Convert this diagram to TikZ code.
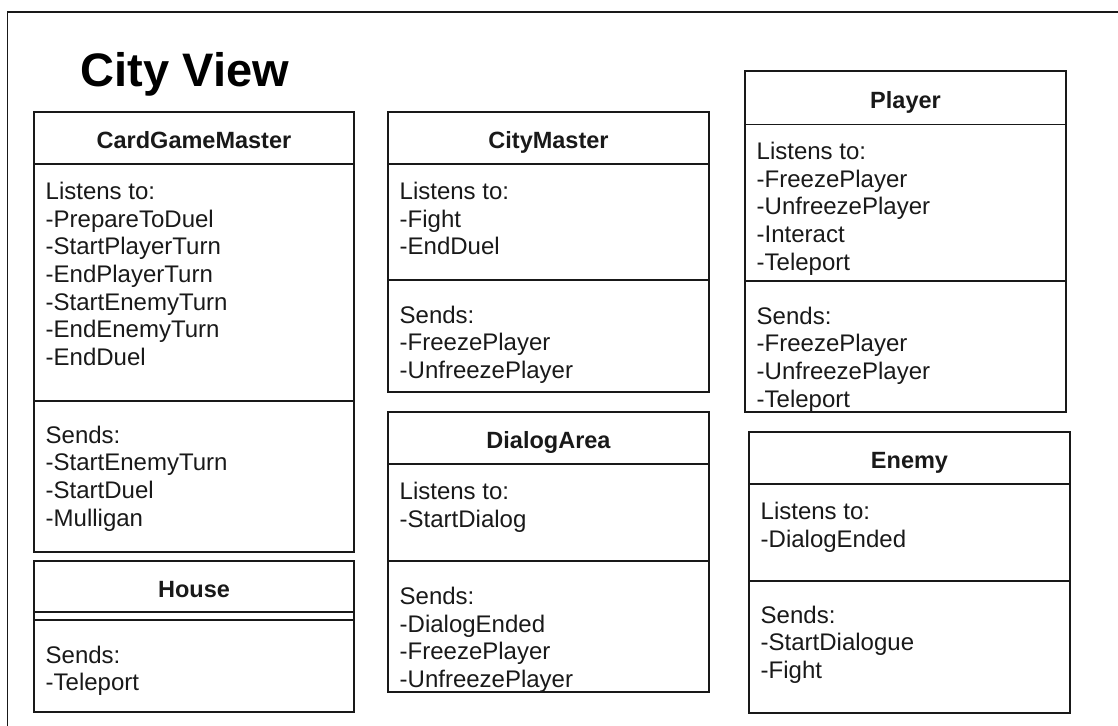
\documentclass[tikz,border=0pt]{standalone}
\usepackage{fontspec}
\setmainfont{Liberation Sans}
\begin{document}
\begin{tikzpicture}[x=1pt,y=-1pt,
  boxline/.style={draw=black!90, line width=1.5pt},
  hdr/.style={anchor=base, inner sep=0pt, font=\fontsize{23.5}{28}\selectfont\bfseries, text=black!90},
  txt/.style={anchor=base west, inner sep=0pt, font=\fontsize{24}{28}\selectfont, text=black!90},
  ttl/.style={anchor=base west, inner sep=0pt, font=\fontsize{47}{56}\selectfont\bfseries, text=black}]
\useasboundingbox (0,0) rectangle (1118,725);
\begin{scope}
\clip (0,0) rectangle (1118,725);
\draw[boxline] (7.5,12) rectangle (1140,760);
\end{scope}
\node[ttl] (title) at (80.5,86) {City View};

% CardGameMaster
\draw[boxline] (34,112) rectangle (354,552);
\draw[boxline] (34,164) -- (354,164);
\draw[boxline] (34,401) -- (354,401);
\node[hdr] (cgm) at (194,148.5) {CardGameMaster};
\foreach \t [count=\i from 0] in {Listens to:,-PrepareToDuel,-StartPlayerTurn,-EndPlayerTurn,-StartEnemyTurn,-EndEnemyTurn,-EndDuel}
  \node[txt] (cgmL\i) at (45.5,{199.3+27.7*\i}) {\t};
\foreach \t [count=\i from 0] in {Sends:,-StartEnemyTurn,-StartDuel,-Mulligan}
  \node[txt] (cgmS\i) at (45.5,{443+27.7*\i}) {\t};

% House
\draw[boxline] (34,561) rectangle (354,712);
\draw[boxline] (34,612) -- (354,612);
\draw[boxline] (34,620) -- (354,620);
\node[hdr] (house) at (194,597.5) {House};
\foreach \t [count=\i from 0] in {Sends:,-Teleport}
  \node[txt] (houseS\i) at (45.5,{663+27.7*\i}) {\t};

% CityMaster
\draw[boxline] (388,112) rectangle (709,392);
\draw[boxline] (388,164) -- (709,164);
\draw[boxline] (388,280) -- (709,280);
\node[hdr] (city) at (548.5,148.5) {CityMaster};
\foreach \t [count=\i from 0] in {Listens to:,-Fight,-EndDuel}
  \node[txt] (cityL\i) at (399.5,{199.3+27.7*\i}) {\t};
\foreach \t [count=\i from 0] in {Sends:,-FreezePlayer,-UnfreezePlayer}
  \node[txt] (cityS\i) at (399.5,{323+27.7*\i}) {\t};

% DialogArea
\draw[boxline] (388,412) rectangle (709,692);
\draw[boxline] (388,464) -- (709,464);
\draw[boxline] (388,561) -- (709,561);
\node[hdr] (dialog) at (548.5,448.5) {DialogArea};
\foreach \t [count=\i from 0] in {Listens to:,-StartDialog}
  \node[txt] (dialogL\i) at (399.5,{499.3+27.7*\i}) {\t};
\foreach \t [count=\i from 0] in {Sends:,-DialogEnded,-FreezePlayer,-UnfreezePlayer}
  \node[txt] (dialogS\i) at (399.5,{604.5+27.7*\i}) {\t};

% Player
\draw[boxline] (745,71) rectangle (1066,412);
\draw[boxline] (745,124.5) -- (1066,124.5);
\draw[boxline] (745,281) -- (1066,281);
\node[hdr] (player) at (905.5,108) {Player};
\foreach \t [count=\i from 0] in {Listens to:,-FreezePlayer,-UnfreezePlayer,-Interact,-Teleport}
  \node[txt] (playerL\i) at (756.5,{159.3+27.7*\i}) {\t};
\foreach \t [count=\i from 0] in {Sends:,-FreezePlayer,-UnfreezePlayer,-Teleport}
  \node[txt] (playerS\i) at (756.5,{324+27.7*\i}) {\t};

% Enemy
\draw[boxline] (749,432) rectangle (1070,713);
\draw[boxline] (749,484) -- (1070,484);
\draw[boxline] (749,581) -- (1070,581);
\node[hdr] (enemy) at (909.5,468.5) {Enemy};
\foreach \t [count=\i from 0] in {Listens to:,-DialogEnded}
  \node[txt] (enemyL\i) at (760.5,{519.3+27.7*\i}) {\t};
\foreach \t [count=\i from 0] in {Sends:,-StartDialogue,-Fight}
  \node[txt] (enemyS\i) at (760.5,{623+27.7*\i}) {\t};
\end{tikzpicture}
\end{document}
